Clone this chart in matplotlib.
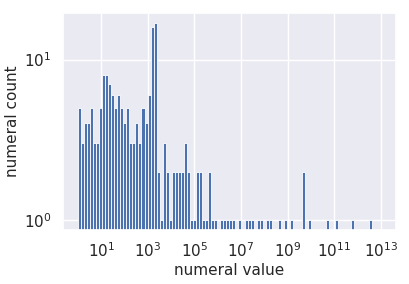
import numpy as np
import matplotlib
matplotlib.use("Agg")
import matplotlib.pyplot as plt
import seaborn as sns

# histogram: 100 log-spaced bins from 10^0 to 10^13
log_lo, log_hi, n_bins = 0, 13, 100
counts = [5, 3, 4, 4, 5, 3, 3, 5, 8, 8, 7, 6, 5, 6, 5, 4, 5, 3, 3, 4, 3, 5, 4, 6, 16, 17,
          2, 1, 3, 2, 1, 2, 2, 2, 2, 3, 2, 1, 1, 2, 2, 1, 1, 2, 1, 1, 0, 1, 1, 1, 1, 1,
          0, 1, 0, 1, 1, 1, 0, 1, 1, 0, 1, 1, 0, 0, 1, 0, 1, 0, 1, 0, 0, 0, 2, 0, 1,
          0, 0, 0, 0, 0, 1, 0, 0, 1, 0, 0, 0, 0, 1, 0, 0, 0, 0, 0, 1, 0, 0, 0]
x_label = "numeral value"
y_label = "numeral count"

sns.set_theme(style="darkgrid")
plt.rcParams['font.family'] = ['DejaVu Sans']

edges = np.logspace(log_lo, log_hi, n_bins + 1)
counts = np.array(counts, dtype=float)

W, H = 409, 284
fig = plt.figure(figsize=(W / 100, H / 100), dpi=100)
ax = fig.add_axes([62.7 / W, (H - 229.7) / H, (396 - 62.7) / W, (229.7 - 12.7) / H])

ax.hist(edges[:-1], bins=edges, weights=counts, color="#4c72b0",
        edgecolor="white", linewidth=0.6)
ax.set_xscale("log")
ax.set_yscale("log")

span_x = log_hi - log_lo
ax.set_xlim(10 ** (log_lo - 0.05 * span_x), 10 ** (log_hi + 0.05 * span_x))
span_y = np.log10(counts.max())
ax.set_ylim(10 ** (-0.05 * span_y), 10 ** (span_y * 1.05))
ax.set_xticks([10.0 ** e for e in range(1, 14, 2)])
ax.minorticks_off()
ax.set_yticks([1, 10])

ax.tick_params(axis="both", labelsize=11, colors="#262626", length=0, pad=8)
ax.set_xlabel(x_label, fontsize=11, color="#262626", va="baseline")
ax.set_ylabel(y_label, fontsize=11, color="#262626", va="center", ha="center")
ax.xaxis.set_label_coords(0.5, (229.7 - 275) / 217)
ax.yaxis.set_label_coords((13 - 62.7) / 333.3, 0.5)

fig.savefig("out.png", dpi=100)
